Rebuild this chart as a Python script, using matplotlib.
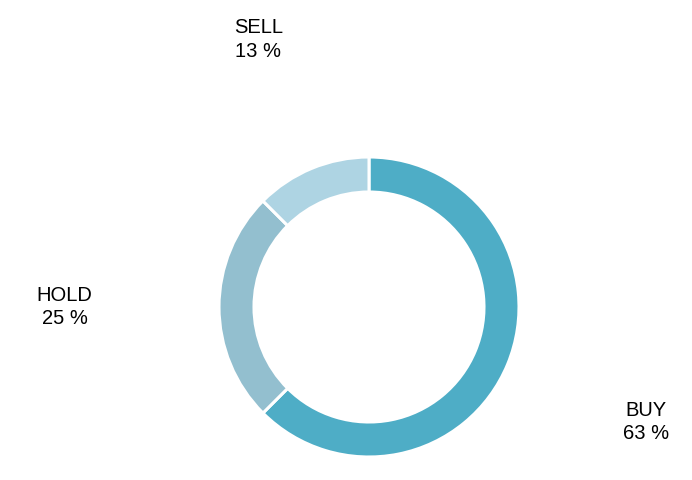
import numpy as np
import matplotlib.pyplot as plt

labels = ['BUY', 'HOLD', 'SELL']
shares = [62.5, 25.0, 12.5]
pct_text = ['63 %', '25 %', '13 %']
colors = ['#4eadc6', '#93bfcf', '#aed4e3']
label_dist = [2.0, 2.03, 1.93]

plt.rcParams['font.family'] = ['Liberation Sans', 'DejaVu Sans']

fig = plt.figure(figsize=(6.92, 4.8), dpi=100)
ax = fig.add_axes([0, 0, 1, 1])

cx, cy, R = 369, 173, 150
txt = [l + '\n' + p for l, p in zip(labels, pct_text)]
wedges, texts = ax.pie(shares, labels=txt, colors=colors, startangle=90,
                       counterclock=False, center=(cx, cy), radius=R,
                       labeldistance=2.0, frame=True,
                       wedgeprops=dict(width=35, edgecolor='white', linewidth=2.2),
                       textprops=dict(fontsize=14.5, color='black'))
for w, t, d in zip(wedges, texts, label_dist):
    ang = np.deg2rad((w.theta1 + w.theta2) / 2)
    t.set_position((cx + d * R * np.cos(ang), cy + d * R * np.sin(ang)))
    t.set_ha('center')
    t.set_va('center')
    t.set_linespacing(1.3)
ax.set_xlim(0, 692)
ax.set_ylim(0, 480)
ax.set_aspect('equal')
ax.axis('off')

fig.savefig('out.png', dpi=100)
